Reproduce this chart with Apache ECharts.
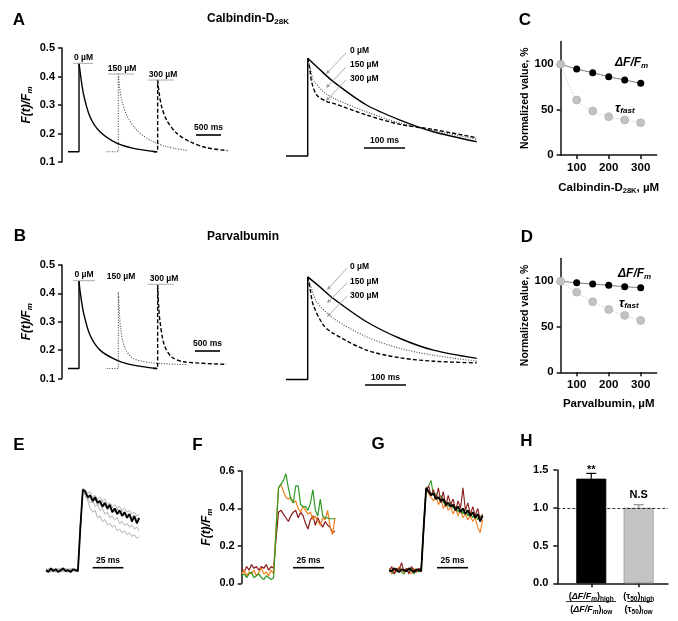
<!DOCTYPE html>
<html><head><meta charset="utf-8">
<script src="https://cdn.jsdelivr.net/npm/echarts@6/dist/echarts.min.js"></script>
<style>html,body{margin:0;padding:0;background:#fff}#c{width:678px;height:621px}</style>
</head><body><div id="c"></div>
<script>
// ---------------- DATA ----------------
const concLabels = ['0 µM', '150 µM', '300 µM'];
// Panel A (Calbindin) left: [time ms, F(t)/Fm]
const aL0   = [[120,0.136],[340,0.136],[340,0.447],[360,0.42],[427,0.341],[560,0.259],[760,0.206],[1093,0.166],[1427,0.148],[1893,0.136]];
const aL150 = [[893,0.136],[1127,0.136],[1127,0.410],[1150,0.365],[1193,0.318],[1293,0.265],[1493,0.212],[1760,0.177],[2093,0.154],[2527,0.140]];
const aL300 = [[1827,0.136],[1913,0.136],[1913,0.388],[1940,0.345],[1993,0.294],[2093,0.247],[2293,0.201],[2560,0.171],[2893,0.150],[3313,0.140]];
// Panel A right (zoomed, overlaid)
const aR0   = [[14.6,0.121],[67.6,0.121],[67.6,0.464],[93,0.430],[130,0.382],[211,0.300],[293,0.247],[374,0.206],[480,0.171]];
const aR150 = [[67.6,0.464],[76,0.416],[81,0.388],[106,0.347],[130,0.324],[211,0.276],[293,0.236],[374,0.210],[480,0.180]];
const aR300 = [[67.6,0.464],[73,0.423],[77,0.382],[89.5,0.335],[114,0.312],[130,0.306],[211,0.265],[293,0.232],[374,0.214],[480,0.185]];
// Panel B (Parvalbumin) left
const bL0   = [[120,0.135],[340,0.135],[340,0.444],[360,0.41],[427,0.335],[560,0.253],[760,0.200],[1093,0.165],[1427,0.147],[1893,0.135]];
const bL150 = [[893,0.135],[1127,0.135],[1127,0.405],[1150,0.33],[1173,0.276],[1260,0.206],[1427,0.171],[1760,0.156],[2493,0.149]];
const bL300 = [[1827,0.135],[1913,0.135],[1913,0.429],[1935,0.35],[1960,0.300],[2047,0.217],[2193,0.176],[2427,0.159],[3293,0.150]];
// Panel B right
const bR0   = [[14.6,0.0965],[67.6,0.0965],[67.6,0.458],[98,0.422],[130,0.382],[211,0.300],[293,0.241],[374,0.200],[480,0.171]];
const bR150 = [[67.6,0.458],[78,0.411],[89.5,0.370],[130,0.312],[211,0.247],[293,0.206],[374,0.182],[480,0.161]];
const bR300 = [[67.6,0.458],[74,0.411],[81,0.359],[106,0.288],[130,0.259],[211,0.200],[293,0.173],[374,0.161],[480,0.155]];
// Panels C, D: normalized values (%)
const conc = [50,100,150,200,250,300];
const cDF  = [100,94.8,90.7,86.3,82.7,79];
const cTau = [100,60.6,48.5,42.3,38.6,35.6];
const dDF  = [100,98.3,97,95.5,94,93];
const dTau = [100,88,77.5,69,62.5,57];
// Panels E, F, G: time (ms) and F(t)/Fm
const tEFG = [0,2,4,6,8,10,12,14,16,18,20,22,24,26,28,30,32,34,36,38,40,42,44,46,48,50,52,54,56,58,60,62,64,66,68,70,72,74,76];
const eBlack = [0.07,0.06,0.08,0.065,0.075,0.06,0.07,0.08,0.065,0.07,0.06,0.075,0.07,0.065,0.30,0.50,0.49,0.46,0.47,0.44,0.46,0.43,0.44,0.41,0.43,0.40,0.42,0.38,0.40,0.37,0.39,0.36,0.38,0.35,0.37,0.33,0.36,0.32,0.35];
const eGray1 = [0.06,0.08,0.07,0.06,0.08,0.07,0.065,0.075,0.06,0.08,0.07,0.06,0.075,0.07,0.28,0.50,0.47,0.44,0.40,0.38,0.39,0.35,0.36,0.33,0.34,0.31,0.32,0.30,0.31,0.28,0.29,0.27,0.28,0.26,0.27,0.25,0.26,0.24,0.25];
const eGray2 = [0.075,0.065,0.07,0.08,0.06,0.075,0.08,0.065,0.07,0.06,0.08,0.07,0.065,0.075,0.31,0.49,0.48,0.45,0.43,0.44,0.41,0.42,0.39,0.40,0.37,0.38,0.35,0.36,0.34,0.35,0.32,0.33,0.31,0.32,0.30,0.31,0.29,0.30,0.28];
const eGray3 = [0.065,0.07,0.06,0.075,0.07,0.08,0.06,0.07,0.075,0.065,0.07,0.08,0.06,0.07,0.29,0.51,0.50,0.48,0.49,0.46,0.47,0.45,0.46,0.44,0.45,0.42,0.43,0.41,0.42,0.40,0.41,0.39,0.40,0.38,0.39,0.37,0.38,0.36,0.37];
const eGray4 = [0.08,0.07,0.065,0.07,0.06,0.07,0.075,0.06,0.08,0.07,0.065,0.07,0.08,0.06,0.30,0.50,0.48,0.47,0.45,0.46,0.44,0.45,0.42,0.44,0.41,0.42,0.40,0.41,0.38,0.40,0.37,0.39,0.36,0.37,0.35,0.36,0.34,0.35,0.33];
const eGray5 = [0.07,0.075,0.06,0.07,0.08,0.065,0.07,0.075,0.07,0.06,0.075,0.065,0.07,0.08,0.32,0.49,0.47,0.45,0.46,0.43,0.45,0.42,0.43,0.40,0.42,0.39,0.41,0.38,0.40,0.37,0.39,0.36,0.38,0.35,0.37,0.34,0.36,0.33,0.34];
const fMaroon = [0.08,0.06,0.09,0.07,0.10,0.08,0.09,0.07,0.09,0.08,0.10,0.07,0.09,0.08,0.24,0.38,0.39,0.37,0.35,0.33,0.36,0.38,0.39,0.35,0.38,0.36,0.32,0.29,0.34,0.36,0.31,0.35,0.32,0.30,0.33,0.31,0.30,0.27,0.28];
const fOrange = [0.05,0.07,0.04,0.06,0.05,0.07,0.04,0.06,0.08,0.05,0.06,0.04,0.07,0.05,0.30,0.51,0.53,0.49,0.46,0.45,0.46,0.43,0.44,0.40,0.38,0.41,0.39,0.37,0.38,0.34,0.36,0.33,0.31,0.35,0.34,0.39,0.30,0.26,0.35];
const fGreen  = [0.04,0.05,0.03,0.05,0.06,0.03,0.04,0.05,0.03,0.02,0.04,0.03,0.02,0.03,0.28,0.51,0.53,0.55,0.585,0.51,0.45,0.43,0.52,0.52,0.42,0.41,0.41,0.39,0.43,0.50,0.39,0.36,0.45,0.36,0.35,0.35,0.345,0.345,0.345];
const gOrange = [0.08,0.05,0.07,0.06,0.09,0.07,0.06,0.08,0.07,0.05,0.08,0.06,0.07,0.06,0.30,0.50,0.48,0.46,0.44,0.47,0.42,0.45,0.40,0.43,0.39,0.41,0.37,0.40,0.36,0.39,0.35,0.37,0.34,0.36,0.33,0.35,0.30,0.27,0.34];
const gGreen  = [0.07,0.06,0.05,0.07,0.08,0.06,0.05,0.07,0.06,0.08,0.05,0.07,0.06,0.09,0.32,0.50,0.52,0.55,0.47,0.48,0.45,0.47,0.43,0.44,0.41,0.43,0.40,0.41,0.38,0.40,0.37,0.40,0.36,0.38,0.35,0.37,0.34,0.36,0.35];
const gMaroon = [0.06,0.09,0.05,0.08,0.07,0.11,0.06,0.08,0.05,0.09,0.07,0.06,0.08,0.07,0.28,0.49,0.52,0.47,0.50,0.45,0.51,0.43,0.49,0.41,0.47,0.42,0.45,0.39,0.44,0.40,0.51,0.39,0.43,0.37,0.41,0.36,0.40,0.34,0.37];
const gBlack  = [0.07,0.065,0.08,0.07,0.06,0.075,0.07,0.065,0.08,0.07,0.06,0.075,0.07,0.065,0.30,0.51,0.49,0.47,0.48,0.45,0.46,0.44,0.45,0.42,0.43,0.41,0.42,0.39,0.41,0.38,0.40,0.37,0.39,0.36,0.38,0.35,0.37,0.33,0.36];
// Panel H
const hPos   = [1, 2];
const hMeans = [1.385, 1.0];
const hErr   = [0.07, 0.04];
const hSig   = ['**', 'N.S'];

// ---------------- LAYOUT / STYLE ----------------
const FF = "'Liberation Sans', Arial, Helvetica, sans-serif";
const NARROW = "'Liberation Sans Narrow', 'Liberation Sans', Arial, sans-serif";
const chart = echarts.init(document.getElementById('c'), null, {renderer: 'canvas'});

const grids = [
  {left:62, top:48, width:175, height:114},
  {left:280, top:48, width:205, height:114},
  {left:62, top:265, width:175, height:113.5},
  {left:280, top:265, width:205, height:113.5},
  {left:560.7, top:41.6, width:96, height:113.4},
  {left:560.7, top:258.5, width:96, height:113.8},
  {left:46, top:471, width:93.3, height:112.3},
  {left:241.7, top:471, width:93.3, height:112.3},
  {left:389.3, top:471, width:93.3, height:112.3},
  {left:557.3, top:470, width:110.7, height:113.3}
];

const tickLabel = {fontFamily:FF, fontWeight:'bold', fontSize:11, color:'#000'};
const axLine = {show:true, onZero:false, lineStyle:{color:'#111', width:1.5}};
const axTick = (extra) => Object.assign({show:true, length:4, lineStyle:{color:'#111', width:1.5}}, extra||{});
const richFt = {
  i:{fontFamily:FF, fontStyle:'italic', fontWeight:'bold', fontSize:12, color:'#000'},
  s:{fontFamily:FF, fontStyle:'italic', fontWeight:'bold', fontSize:8, color:'#000', padding:[7,0,0,0]}
};
const richSub = {
  b:{fontFamily:FF, fontWeight:'bold', fontSize:11.5, color:'#000'},
  s:{fontFamily:FF, fontWeight:'bold', fontSize:7.5, color:'#000', padding:[6,0,0,0]}
};
const hidden = (gi, min, max) => ({gridIndex:gi, type:'value', min, max, show:false});
const ftAxis = (gi, min, max, interval, gap) => ({
  gridIndex:gi, type:'value', min, max, interval,
  axisLine:axLine, axisTick:axTick(), splitLine:{show:false},
  axisLabel:Object.assign({}, tickLabel, {margin:7, formatter:v => v.toFixed(1)}),
  name:'{i|F(t)/F}{s|m}', nameLocation:'middle', nameRotate:90, nameGap:gap,
  nameTextStyle:{rich:richFt}
});
const normAxis = (gi) => ({
  gridIndex:gi, type:'value', min:0, max:125,
  axisLine:axLine, axisTick:axTick({customValues:[0,50,100]}), splitLine:{show:false},
  axisLabel:Object.assign({}, tickLabel, {fontSize:11.5, margin:7, customValues:[0,50,100]}),
  name:'Normalized value, %', nameLocation:'middle', nameRotate:90, nameGap:29,
  nameTextStyle:{fontFamily:NARROW, fontWeight:'bold', fontSize:10.5, color:'#000'}
});
const concAxis = (gi, name) => ({
  gridIndex:gi, type:'value', min:50, max:350,
  axisLine:axLine, axisTick:axTick({customValues:[100,200,300]}), splitLine:{show:false},
  axisLabel:Object.assign({}, tickLabel, {fontSize:11.5, margin:7, customValues:[100,200,300]}),
  name, nameLocation:'middle', nameGap:26, nameTextStyle:{rich:richSub}
});

const hLabelRich = [
  '{p|(}{i|ΔF/F}{si|m}{p|)}{s|high}\n{p|(}{i|ΔF/F}{si|m}{p|)}{s|low}',
  '{p|(τ}{s2|50}{p|)}{s|high}\n{p|(τ}{s2|50}{p|)}{s|low}'
];

const xAxes = [
  hidden(0, 0, 3500), hidden(1, 0, 500), hidden(2, 0, 3500), hidden(3, 0, 500),
  concAxis(4, '{b|Calbindin-D}{s|28K}{b|, µM}'),
  concAxis(5, '{b|Parvalbumin, µM}'),
  hidden(6, 0, 76), hidden(7, 0, 76), hidden(8, 0, 76),
  {gridIndex:9, type:'value', min:0.283, max:2.62,
   axisLine:axLine, axisTick:axTick({customValues:hPos}), splitLine:{show:false},
   axisLabel:{customValues:hPos, margin:7, lineHeight:13,
     formatter:v => hLabelRich[Math.round(v)-1],
     rich:{
       p:{fontFamily:FF, fontWeight:'bold', fontSize:9, color:'#000', lineHeight:13},
       i:{fontFamily:FF, fontWeight:'bold', fontStyle:'italic', fontSize:9, color:'#000', lineHeight:13},
       si:{fontFamily:FF, fontWeight:'bold', fontStyle:'italic', fontSize:6.5, color:'#000', padding:[4,0,0,0]},
       s:{fontFamily:FF, fontWeight:'bold', fontSize:6.5, color:'#000', padding:[4,0,0,0]},
       s2:{fontFamily:FF, fontWeight:'bold', fontSize:6.5, color:'#000', padding:[4,0,0,0]}
     }}}
];
const yAxes = [
  ftAxis(0, 0.1, 0.5, 0.1, 28), hidden(1, 0.1, 0.5), ftAxis(2, 0.1, 0.5, 0.1, 28), hidden(3, 0.1, 0.5),
  normAxis(4), normAxis(5),
  hidden(6, 0, 0.6), ftAxis(7, 0, 0.6, 0.2, 28), hidden(8, 0, 0.6),
  {gridIndex:9, type:'value', min:0, max:1.5, interval:0.5,
   axisLine:axLine, axisTick:axTick(), splitLine:{show:false},
   axisLabel:Object.assign({}, tickLabel, {margin:9, formatter:v => v.toFixed(1)})}
];

const SOLID  = {color:'#000', width:1.4, type:'solid'};
const DOTTED = {color:'#444', width:1.1, type:[1, 1.6]};
const DASHED = {color:'#000', width:1.4, type:[4, 2.2]};

const series = [];
function addTrace(gi, pts, peakIdx, ls) {
  const base = {type:'line', xAxisIndex:gi, yAxisIndex:gi, symbol:'none', showSymbol:false,
    silent:true, clip:false, animation:false, lineStyle:ls};
  if (peakIdx > 0) series.push(Object.assign({}, base, {data:pts.slice(0, peakIdx + 1)}));
  series.push(Object.assign({}, base, {data:pts.slice(peakIdx), smooth:0.3}));
}
addTrace(0, aL0, 2, SOLID); addTrace(0, aL150, 2, DOTTED); addTrace(0, aL300, 2, DASHED);
addTrace(1, aR0, 2, SOLID); addTrace(1, aR150, 0, DOTTED); addTrace(1, aR300, 0, DASHED);
addTrace(2, bL0, 2, SOLID); addTrace(2, bL150, 2, DOTTED); addTrace(2, bL300, 2, DASHED);
addTrace(3, bR0, 2, SOLID); addTrace(3, bR150, 0, DOTTED); addTrace(3, bR300, 0, DASHED);

function addNorm(gi, df, tau) {
  series.push({type:'line', xAxisIndex:gi, yAxisIndex:gi, data:conc.map((x,i)=>[x, df[i]]),
    symbol:'circle', symbolSize:7, smooth:0.3, itemStyle:{color:'#000'},
    lineStyle:{color:'#555', width:0.8}, silent:true, animation:false, z:3});
  series.push({type:'line', xAxisIndex:gi, yAxisIndex:gi, data:conc.map((x,i)=>[x, tau[i]]),
    symbol:'circle', symbolSize:8, smooth:0.3, itemStyle:{color:'#c2c2c2', borderColor:'#a9a9a9', borderWidth:0.6},
    lineStyle:{color:'#d0d0d0', width:1, type:[1.5,1.5]}, silent:true, animation:false, z:4});
}
addNorm(4, cDF, cTau);
addNorm(5, dDF, dTau);

function addNoisy(gi, arr, color, width) {
  series.push({type:'line', xAxisIndex:gi, yAxisIndex:gi, data:tEFG.map((t,i)=>[t, arr[i]]),
    symbol:'none', lineStyle:{color, width}, silent:true, animation:false, clip:false});
}
const GRAY = '#a8a8a8', MAROON = '#8b1a1a', ORANGE = '#f27f1b', GREEN = '#2f9a25';
[eGray1, eGray2, eGray3, eGray4, eGray5].forEach(a => addNoisy(6, a, GRAY, 0.9));
addNoisy(6, eBlack, '#000', 1.8);
addNoisy(7, fMaroon, MAROON, 1.2); addNoisy(7, fOrange, ORANGE, 1.2); addNoisy(7, fGreen, GREEN, 1.2);
addNoisy(8, gOrange, ORANGE, 1.1); addNoisy(8, gGreen, GREEN, 1.1); addNoisy(8, gMaroon, MAROON, 1.1);
addNoisy(8, gBlack, '#000', 1.8);

const hColors = ['#000', '#c3c3c3'];
const hBorders = ['#000', '#9a9a9a'];
series.push({type:'custom', xAxisIndex:9, yAxisIndex:9, silent:true, animation:false, z:1,
  data:hPos.map((x,i)=>[x, hMeans[i], hErr[i], i]),
  renderItem:(params, api) => {
    const x = api.value(0), m = api.value(1), e = api.value(2), k = api.value(3);
    const p0 = api.coord([x, m]), p1 = api.coord([x, m + e]);
    const c = k === 0 ? '#000' : '#8a8a8a';
    return {type:'group', children:[
      {type:'line', shape:{x1:p0[0], y1:p0[1], x2:p1[0], y2:p1[1]}, style:{stroke:c, lineWidth:1.2}},
      {type:'line', shape:{x1:p1[0]-5, y1:p1[1], x2:p1[0]+5, y2:p1[1]}, style:{stroke:c, lineWidth:1.2}}
    ]};
  }});
series.push({type:'bar', xAxisIndex:9, yAxisIndex:9, barWidth:30, silent:true, animation:false, z:2,
  data:hPos.map((x,i)=>({value:[x, hMeans[i]], itemStyle:{color:hColors[i], borderColor:hBorders[i], borderWidth:0.8},
    label:{distance: i === 0 ? 3 : 7}})),
  label:{show:true, position:'top', formatter:p => hSig[p.dataIndex],
    fontFamily:FF, fontWeight:'bold', fontSize:11, color:'#000'},
  markLine:{silent:true, symbol:'none', animation:false, label:{show:false},
    lineStyle:{color:'#000', width:0.8, type:[3,2]}, data:[{yAxis:1}]}});

// ---------------- ANNOTATIONS ----------------
const G = [];
function txt(x, y, text, size, opts) {
  G.push({type:'text', x, y, silent:true, z:100, style:Object.assign({text, fontFamily:FF, fontWeight:'bold',
    fontSize:size, fill:'#000', align:'center', verticalAlign:'middle'}, opts||{})});
}
function seg(x1, y1, x2, y2, color, w) {
  G.push({type:'line', silent:true, z:100, shape:{x1, y1, x2, y2}, style:{stroke:color, lineWidth:w}});
}
function arrow(x1, y1, x2, y2) {
  const a = Math.atan2(y2-y1, x2-x1), L = 4, W = 1.8;
  const bx = x2 - L*Math.cos(a), by = y2 - L*Math.sin(a);
  const px = -Math.sin(a)*W, py = Math.cos(a)*W;
  seg(x1, y1, bx, by, '#9a9a9a', 0.8);
  G.push({type:'polygon', silent:true, z:100, shape:{points:[[x2,y2],[bx+px,by+py],[bx-px,by-py]]}, style:{fill:'#9a9a9a'}});
}
// panel letters
[['A',19,20],['B',20,236.5],['C',525,20],['D',527,237],['E',19,445],['F',197.5,445],['G',378,444.5],['H',526.5,441.5]]
  .forEach(([l,x,y]) => txt(x, y, l, 17));
// titles
const richTitle = {b:{fontFamily:FF, fontWeight:'bold', fontSize:12, fill:'#000'},
                   s:{fontFamily:FF, fontWeight:'bold', fontSize:8, fill:'#000', padding:[6,0,0,0]}};
txt(207, 19, '{b|Calbindin-D}{s|28K}', 12, {align:'left', rich:richTitle});
txt(207, 236.5, '{b|Parvalbumin}', 12, {align:'left', rich:richTitle});
// left concentration labels with peak markers
txt(83.5, 58, concLabels[0], 8.5); seg(73, 63.3, 93, 63.3, '#aaa', 1);
txt(122, 69, concLabels[1], 8.5); seg(108, 74, 134, 74, '#aaa', 1);
txt(163, 74.5, concLabels[2], 8.5); seg(148, 80, 174, 80, '#aaa', 1);
txt(84, 274.5, concLabels[0], 8.5); seg(73, 280.7, 95, 280.7, '#aaa', 1);
txt(121, 276.5, concLabels[1], 8.5);
txt(164, 279, concLabels[2], 8.5); seg(148, 284.3, 174, 284.3, '#aaa', 1);
// right concentration labels with arrows
[[50.5,53,74],[65,67,88],[78.5,80,101]].forEach(([ly,a1,a2],i) => {
  txt(350, ly, concLabels[i], 8.5, {align:'left'}); arrow(346, a1, 326, a2);
});
[[267,268,290],[282,283,303],[295.5,296,317]].forEach(([ly,a1,a2],i) => {
  txt(350, ly, concLabels[i], 8.5, {align:'left'}); arrow(347, a1, 327, a2);
});
// scale bars
function scaleBar(x1, x2, y, label) { seg(x1, y, x2, y, '#000', 1.6); txt((x1+x2)/2, y - 7, label, 8.5); }
scaleBar(196, 221, 135, '500 ms');
scaleBar(195, 220, 351, '500 ms');
scaleBar(364, 405, 148, '100 ms');
scaleBar(365, 406, 385, '100 ms');
scaleBar(92.7, 123.3, 567.7, '25 ms');
scaleBar(293, 324, 567.7, '25 ms');
scaleBar(437, 468, 567.7, '25 ms');
// C / D series labels
const richDF = {i:{fontFamily:FF, fontStyle:'italic', fontWeight:'bold', fontSize:12, fill:'#000'},
                s:{fontFamily:FF, fontStyle:'italic', fontWeight:'bold', fontSize:8, fill:'#000', padding:[6,0,0,0]},
                t:{fontFamily:FF, fontStyle:'italic', fontWeight:'bold', fontSize:13, fill:'#000'}};
txt(615, 63, '{i|ΔF/F}{s|m}', 12, {align:'left', rich:richDF});
txt(615, 108, '{t|τ}{s|fast}', 12, {align:'left', rich:richDF});
txt(618, 274, '{i|ΔF/F}{s|m}', 12, {align:'left', rich:richDF});
txt(619, 303, '{t|τ}{s|fast}', 12, {align:'left', rich:richDF});
// H fraction bars
seg(566, 601.5, 616, 601.5, '#000', 0.8);
seg(627, 601.5, 653, 601.5, '#000', 0.8);

chart.setOption({
  animation:false,
  backgroundColor:'#fff',
  textStyle:{fontFamily:FF},
  grid:grids,
  xAxis:xAxes,
  yAxis:yAxes,
  series,
  graphic:G
});
</script>
</body></html>
